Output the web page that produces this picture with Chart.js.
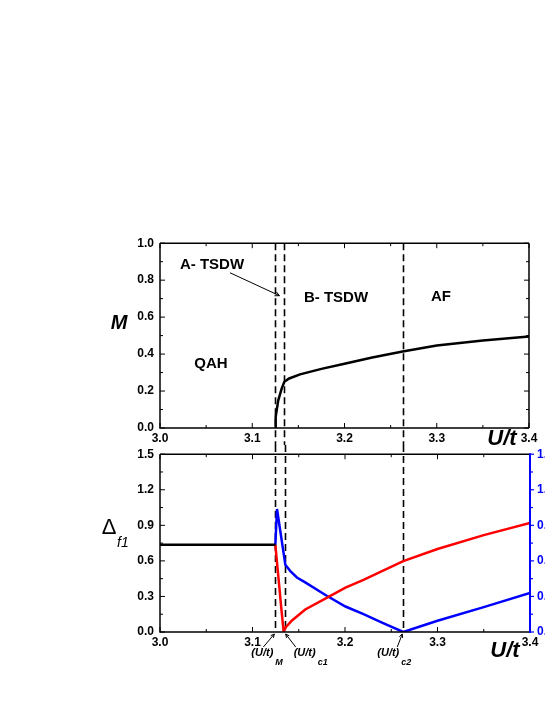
<!DOCTYPE html>
<html>
<head>
<meta charset="utf-8">
<script src="https://cdn.jsdelivr.net/npm/chart.js@4.4.1/dist/chart.umd.min.js"></script>
<style>
  html, body { margin: 0; padding: 0; background: #fff; overflow: hidden; width: 545px; height: 705px; }
  #top { position: absolute; left: 0; top: 230px; }
  #bot { position: absolute; left: 0; top: 440px; }
</style>
</head>
<body>
<canvas id="top" width="545" height="220"></canvas>
<canvas id="bot" width="575" height="270"></canvas>
<script>
// tick labels
const xTicks = [3.0, 3.1, 3.2, 3.3, 3.4];
const mTicks = [0.0, 0.2, 0.4, 0.6, 0.8, 1.0];
const dTicks = [0.0, 0.3, 0.6, 0.9, 1.2, 1.5];
const dRightTicks = [0.0, 0.3, 0.6, 0.9, 1.2, 1.5];

// phase boundaries (U/t)_M, (U/t)_c1, (U/t)_c2
const uBounds = [3.1247, 3.1348, 3.263];

// top panel: magnetization M
const uM = [3.1247, 3.1254, 3.1282, 3.1319, 3.1348, 3.14, 3.1518, 3.175, 3.2, 3.23, 3.263, 3.3, 3.35, 3.4];
const mVals = [0.0, 0.06, 0.15, 0.213, 0.25, 0.268, 0.29, 0.32, 0.348, 0.382, 0.414, 0.446, 0.473, 0.495];

// bottom panel: gap in QAH phase (black)
const uQah = [3.0, 3.1247];
const dQah = [0.736, 0.736];

// red curve (left axis)
const uRed = [3.1247, 3.1282, 3.1311, 3.1337, 3.136, 3.1427, 3.157, 3.1807, 3.2005, 3.22, 3.24, 3.263, 3.3, 3.35, 3.4];
const dRed = [0.736, 0.446, 0.204, 0.0, 0.04, 0.097, 0.19, 0.29, 0.375, 0.44, 0.513, 0.598, 0.70, 0.817, 0.92];

// blue curve (right axis)
const uBlue = [3.1247, 3.1265, 3.1355, 3.1409, 3.148, 3.157, 3.1789, 3.2005, 3.22, 3.24, 3.263, 3.3, 3.35, 3.4];
const dBlue = [0.736, 1.038, 0.567, 0.514, 0.46, 0.419, 0.312, 0.215, 0.15, 0.08, 0.0, 0.095, 0.21, 0.33];

const FAM = '"Liberation Sans", Arial, sans-serif';
const tickFont = { family: FAM, size: 12, weight: 'bold' };

function pts(xs, ys) {
  return xs.map((u, i) => ({ x: u, y: ys[i] }));
}

// majors + midpoints as minors
function marks(arr) {
  const out = [];
  arr.forEach((v, i) => {
    out.push([v, true]);
    if (i < arr.length - 1) out.push([(v + arr[i + 1]) / 2, false]);
  });
  return out;
}

function seg(ctx, x0, y0, x1, y1) {
  ctx.beginPath();
  ctx.moveTo(x0, y0);
  ctx.lineTo(x1, y1);
  ctx.stroke();
}

function arrow(ctx, x0, y0, x1, y1, head) {
  seg(ctx, x0, y0, x1, y1);
  const ang = Math.atan2(y1 - y0, x1 - x0);
  ctx.beginPath();
  ctx.moveTo(x1 - head * Math.cos(ang - 0.45), y1 - head * Math.sin(ang - 0.45));
  ctx.lineTo(x1, y1);
  ctx.lineTo(x1 - head * Math.cos(ang + 0.45), y1 - head * Math.sin(ang + 0.45));
  ctx.stroke();
}

// box + inward ticks
const framePlugin = {
  id: 'frame',
  afterDatasetsDraw(chart, args, opts) {
    const { ctx, chartArea: a, scales } = chart;
    ctx.save();
    ctx.strokeStyle = '#000';
    ctx.lineWidth = 1.5;
    ctx.beginPath();
    ctx.moveTo(a.left, a.top);
    ctx.lineTo(a.left, a.bottom);
    ctx.lineTo(a.right, a.bottom);
    ctx.moveTo(a.left, a.top);
    ctx.lineTo(a.right, a.top);
    if (!opts.blueRight) {
      ctx.moveTo(a.right, a.top);
      ctx.lineTo(a.right, a.bottom);
    }
    ctx.stroke();
    ctx.lineWidth = 1;
    marks(opts.xTicks).forEach(([v, major]) => {
      const p = scales.x.getPixelForValue(v);
      const l = major ? 5 : 3;
      seg(ctx, p, a.bottom, p, a.bottom - l);
      seg(ctx, p, a.top, p, a.top + l);
    });
    marks(opts.yTicks).forEach(([v, major]) => {
      const p = scales.y.getPixelForValue(v);
      const l = major ? 5 : 3;
      seg(ctx, a.left, p, a.left + l, p);
      if (!opts.blueRight) seg(ctx, a.right, p, a.right - l, p);
    });
    if (opts.blueRight) {
      ctx.strokeStyle = '#0000ff';
      ctx.lineWidth = 2;
      seg(ctx, a.right, a.top - 1, a.right, a.bottom + 1);
      ctx.lineWidth = 1.2;
      marks(opts.rightTicks).forEach(([v, major]) => {
        const p = scales.y1.getPixelForValue(v);
        seg(ctx, a.right, p, a.right + (major ? 4 : 3), p);
      });
    }
    ctx.restore();
  }
};

// vertical dashed phase boundaries
const dashPlugin = {
  id: 'dash',
  beforeDatasetsDraw(chart, args, opts) {
    const { ctx, chartArea: a, scales: { x } } = chart;
    ctx.save();
    ctx.strokeStyle = '#000';
    ctx.lineWidth = 1.6;
    ctx.setLineDash([7, 4]);
    uBounds.forEach(u => {
      const p = Math.round(x.getPixelForValue(u)) + 0.5;
      if (opts.downToEdge) seg(ctx, p, a.top, p, chart.height - 5);
      else seg(ctx, p, 5, p, a.bottom);
    });
    ctx.restore();
  }
};

const topText = {
  id: 'topText',
  afterDraw(chart) {
    const { ctx, chartArea: a, scales: { x, y } } = chart;
    ctx.save();
    ctx.fillStyle = '#000';
    ctx.strokeStyle = '#000';
    ctx.textAlign = 'center';
    ctx.textBaseline = 'middle';
    ctx.font = 'bold 15px ' + FAM;
    [['A- TSDW', 3.0564, 0.882], ['QAH', 3.0553, 0.349], ['B- TSDW', 3.1908, 0.704], ['AF', 3.3046, 0.71]]
      .forEach(([t, u, m]) => ctx.fillText(t, x.getPixelForValue(u), y.getPixelForValue(m)));
    ctx.lineWidth = 1;
    arrow(ctx, x.getPixelForValue(3.0759), y.getPixelForValue(0.84),
      x.getPixelForValue(3.1295), y.getPixelForValue(0.716), 5);
    ctx.font = 'italic bold 20px ' + FAM;
    ctx.fillText('M', a.left - 41, a.top + 80);
    ctx.font = 'italic bold 22px ' + FAM;
    ctx.fillText('U/t', a.right - 27, a.bottom + 11);
    ctx.restore();
  }
};

const botText = {
  id: 'botText',
  afterDraw(chart) {
    const { ctx, chartArea: a, scales: { x } } = chart;
    ctx.save();
    ctx.fillStyle = '#000';
    ctx.strokeStyle = '#000';
    ctx.textBaseline = 'middle';
    ctx.textAlign = 'center';
    ctx.font = '22px ' + FAM;
    ctx.fillText('\u0394', a.left - 51, a.top + 74);
    ctx.textAlign = 'left';
    ctx.font = 'italic 14px ' + FAM;
    ctx.fillText('f1', a.left - 43, a.top + 89);
    ctx.textAlign = 'center';
    ctx.font = 'italic bold 22px ' + FAM;
    ctx.fillText('U/t', a.right - 25, a.bottom + 19);

    // (U/t)_M, (U/t)_c1, (U/t)_c2 pointers
    const subs = ['M', 'c1', 'c2'];
    const txtOff = [-13, 20, -15];
    const arr = [[-12, 15, -1, 2], [11, 15, 1, 2], [-6, 15, -1, 2]];
    ctx.lineWidth = 1;
    uBounds.forEach((u, i) => {
      const p = x.getPixelForValue(u);
      ctx.font = 'italic bold 11px ' + FAM;
      ctx.textAlign = 'center';
      ctx.fillText('(U/t)', p + txtOff[i], a.bottom + 21);
      const w = ctx.measureText('(U/t)').width;
      ctx.textAlign = 'left';
      ctx.font = 'italic bold 9px ' + FAM;
      ctx.fillText(subs[i], p + txtOff[i] + w / 2 + 2, a.bottom + 31);
      const [x0, y0, x1, y1] = arr[i];
      arrow(ctx, p + x0, a.bottom + y0, p + x1, a.bottom + y1, 4);
    });
    ctx.restore();
  }
};

const noGrid = { display: false, drawTicks: false };

new Chart(document.getElementById('top'), {
  type: 'line',
  data: {
    datasets: [{
      data: pts(uM, mVals),
      borderColor: '#000',
      borderWidth: 2.5,
      pointRadius: 0,
      tension: 0
    }]
  },
  options: {
    responsive: false,
    animation: false,
    events: [],
    layout: { padding: { top: 12, right: 16, left: 0, bottom: 0 } },
    plugins: {
      legend: { display: false },
      tooltip: { enabled: false },
      frame: { xTicks: xTicks, yTicks: mTicks },
      dash: { downToEdge: true }
    },
    scales: {
      x: {
        type: 'linear', min: 3.0, max: 3.4,
        grid: noGrid, border: { display: false },
        afterBuildTicks: s => { s.ticks = xTicks.map(v => ({ value: v })); },
        afterFit: s => { s.height = 22; },
        ticks: { font: tickFont, color: '#000', padding: 3, maxRotation: 0, callback: v => v.toFixed(1) }
      },
      y: {
        min: 0, max: 1.0,
        grid: noGrid, border: { display: false },
        afterBuildTicks: s => { s.ticks = mTicks.map(v => ({ value: v })); },
        afterFit: s => { s.width = 160; },
        ticks: { font: tickFont, color: '#000', padding: 6, callback: v => v.toFixed(1) }
      }
    }
  },
  plugins: [dashPlugin, framePlugin, topText]
});

new Chart(document.getElementById('bot'), {
  type: 'line',
  data: {
    datasets: [
      { data: pts(uQah, dQah), borderColor: '#000', borderWidth: 2.5, pointRadius: 0, tension: 0, yAxisID: 'y' },
      { data: pts(uRed, dRed), borderColor: '#ff0000', borderWidth: 2.5, pointRadius: 0, tension: 0, yAxisID: 'y' },
      { data: pts(uBlue, dBlue), borderColor: '#0000ff', borderWidth: 2.5, pointRadius: 0, tension: 0, yAxisID: 'y1' }
    ]
  },
  options: {
    responsive: false,
    animation: false,
    events: [],
    layout: { padding: { top: 7, right: 0, left: 0, bottom: 0 } },
    plugins: {
      legend: { display: false },
      tooltip: { enabled: false },
      frame: { xTicks: xTicks, yTicks: dTicks, rightTicks: dRightTicks, blueRight: true },
      dash: { downToEdge: false }
    },
    scales: {
      x: {
        type: 'linear', min: 3.0, max: 3.4,
        grid: noGrid, border: { display: false },
        afterBuildTicks: s => { s.ticks = xTicks.map(v => ({ value: v })); },
        afterFit: s => { s.height = 78; },
        ticks: { font: tickFont, color: '#000', padding: 3, maxRotation: 0, callback: v => v.toFixed(1) }
      },
      y: {
        min: 0, max: 1.5,
        grid: noGrid, border: { display: false },
        afterBuildTicks: s => { s.ticks = dTicks.map(v => ({ value: v })); },
        afterFit: s => { s.width = 160; },
        ticks: { font: tickFont, color: '#000', padding: 6, callback: v => v.toFixed(1) }
      },
      y1: {
        position: 'right', min: 0, max: 1.5,
        grid: noGrid, border: { display: false },
        afterBuildTicks: s => { s.ticks = dRightTicks.map(v => ({ value: v })); },
        afterFit: s => { s.width = 45; },
        ticks: { font: tickFont, color: '#0000ff', padding: 7, callback: v => v.toFixed(1) }
      }
    }
  },
  plugins: [dashPlugin, framePlugin, botText]
});
</script>
</body>
</html>
